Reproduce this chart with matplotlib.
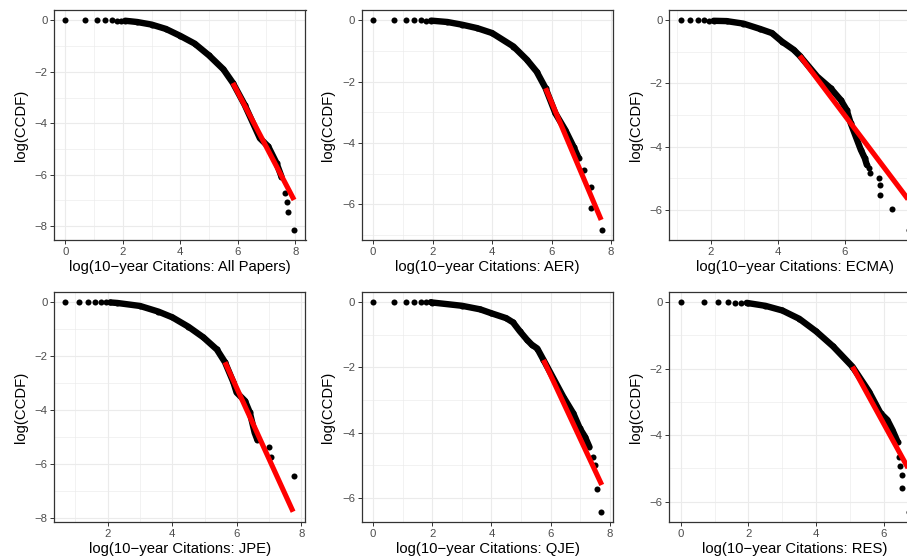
import matplotlib
matplotlib.use("Agg")
import matplotlib.pyplot as plt
from matplotlib.ticker import MultipleLocator

plt.rcParams['font.family'] = ['Liberation Sans', 'DejaVu Sans']

# ---- values (log citations, log CCDF) ----
labels = ['All Papers', 'AER', 'ECMA', 'JPE', 'QJE', 'RES']

# isolated dots (low-count head and sparse tail)
dots_x = {
    'All Papers': [0, 0.69, 1.10, 1.39, 1.61, 1.79, 1.95, 7.64, 7.72, 7.76, 7.96],
    'AER': [0, 0.69, 1.10, 1.39, 1.61, 1.79, 7.08, 7.33, 7.33, 7.69],
    'ECMA': [1.10, 1.39, 1.61, 1.79, 1.95, 6.72, 6.75, 7.02, 7.05, 7.05, 7.40, 7.92],
    'JPE': [0.69, 1.10, 1.39, 1.61, 1.79, 1.95, 7.00, 7.05, 7.77],
    'QJE': [0, 0.69, 1.10, 1.39, 1.61, 1.79, 7.44, 7.50, 7.56, 7.70],
    'RES': [0, 0.69, 1.10, 1.39, 1.61, 1.79, 6.44, 6.47, 6.54, 6.54, 6.75],
}
dots_y = {
    'All Papers': [0, 0, 0, 0, 0, -0.005, -0.008, -6.72, -7.05, -7.45, -8.15],
    'AER': [0, 0, 0, 0, 0, -0.005, -4.87, -5.42, -6.13, -6.84],
    'ECMA': [0, 0, 0, 0, -0.005, -4.69, -4.85, -5.01, -5.22, -5.54, -5.97, -6.65],
    'JPE': [0, 0, 0, 0, 0, -0.005, -5.36, -5.74, -6.44],
    'QJE': [0, 0, 0, 0, 0, -0.005, -4.74, -4.99, -5.71, -6.42],
    'RES': [0, 0, 0, 0, -0.01, -0.015, -4.65, -4.92, -5.20, -5.60, -6.30],
}

# dense part of the curve (points overlap into a band)
band_x = {
    'All Papers': [2.08, 2.5, 3.0, 3.5, 4.0, 4.5, 5.0, 5.5, 5.83, 6.24, 6.77, 7.06, 7.35, 7.52],
    'AER': [1.95, 2.5, 3.0, 3.5, 4.0, 4.72, 5.17, 5.5, 5.80, 6.13, 6.46, 6.74, 6.91],
    'ECMA': [2.08, 2.47, 2.97, 3.47, 3.82, 4.12, 4.47, 4.65, 5.17, 5.57, 5.87, 6.05, 6.17,
             6.32, 6.47, 6.59, 6.65],
    'JPE': [2.08, 2.3, 3.0, 3.57, 4.0, 4.5, 4.96, 5.38, 5.63, 5.89, 5.99, 6.25, 6.40, 6.55, 6.63],
    'QJE': [1.95, 2.0, 3.0, 3.62, 4.0, 4.5, 4.73, 4.95, 5.2, 5.36, 5.55, 5.76, 6.43, 6.77,
            6.99, 7.16, 7.31],
    'RES': [1.95, 2.0, 2.5, 3.0, 3.5, 4.0, 4.5, 5.07, 5.56, 5.90, 6.10, 6.25, 6.40],
}
band_y = {
    'All Papers': [-0.01, -0.06, -0.16, -0.33, -0.60, -0.90, -1.36, -1.90, -2.43, -3.28,
                   -4.58, -4.90, -5.55, -6.07],
    'AER': [-0.005, -0.05, -0.14, -0.25, -0.41, -0.85, -1.28, -1.67, -2.21, -3.03, -3.57,
            -4.12, -4.49],
    'ECMA': [-0.01, -0.02, -0.10, -0.27, -0.40, -0.67, -0.93, -1.12, -1.78, -2.15, -2.52,
             -2.84, -3.26, -3.68, -4.10, -4.37, -4.58],
    'JPE': [-0.01, -0.03, -0.14, -0.35, -0.56, -0.91, -1.30, -1.75, -2.22, -2.96, -3.34,
            -3.65, -4.08, -4.83, -5.08],
    'QJE': [0, -0.01, -0.11, -0.22, -0.34, -0.49, -0.62, -0.88, -1.15, -1.30, -1.42, -1.77,
            -2.90, -3.41, -3.87, -4.12, -4.43],
    'RES': [-0.02, -0.03, -0.11, -0.25, -0.50, -0.88, -1.33, -1.94, -2.69, -3.34, -3.54,
            -3.84, -4.19],
}

# fitted power-law tail (start and end of red line)
fit_x = {
    'All Papers': [5.83, 7.96], 'AER': [5.80, 7.67], 'ECMA': [4.65, 7.92],
    'JPE': [5.63, 7.74], 'QJE': [5.76, 7.73], 'RES': [5.07, 6.75],
}
fit_y = {
    'All Papers': [-2.43, -6.98], 'AER': [-2.21, -6.51], 'ECMA': [-1.12, -5.73],
    'JPE': [-2.22, -7.75], 'QJE': [-1.77, -5.60], 'RES': [-1.94, -5.06],
}

W, H = 907, 560
fig = plt.figure(figsize=(W / 100, H / 100), dpi=100)

# the right-hand column runs past the image edge, as in the original export
col_left = [54, 361.7, 669.3]
row_top = [10, 291.7]
pw, ph = 251.5, 230.5

for i, lab in enumerate(labels):
    r, c = divmod(i, 3)
    rect = [col_left[c] / W, 1 - (row_top[r] + ph) / H, pw / W, ph / H]
    ax = fig.add_axes(rect)

    ax.plot(band_x[lab], band_y[lab], color='black', lw=4.6, solid_capstyle='round',
            solid_joinstyle='round', zorder=2)
    ax.scatter(band_x[lab] + dots_x[lab], band_y[lab] + dots_y[lab], s=19,
               color='black', linewidths=0, zorder=3)
    ax.plot(fit_x[lab], fit_y[lab], color='red', lw=3.7, solid_capstyle='butt', zorder=4)

    ax.margins(0.05)
    ax.xaxis.set_major_locator(MultipleLocator(2))
    ax.xaxis.set_minor_locator(MultipleLocator(1))
    ax.yaxis.set_major_locator(MultipleLocator(2))
    ax.yaxis.set_minor_locator(MultipleLocator(1))

    ax.grid(which='major', color='#EBEBEB', lw=0.8, zorder=0)
    ax.grid(which='minor', color='#EBEBEB', lw=0.45, zorder=0)
    ax.set_axisbelow(True)
    for sp in ax.spines.values():
        sp.set_color('#333333')
        sp.set_linewidth(0.9)
    ax.tick_params(which='major', length=2.9, width=0.7, color='#333333',
                   labelsize=8.2, labelcolor='#4D4D4D', pad=1.8)
    ax.tick_params(which='minor', length=0)

    ax.set_xlabel(f'log(10\u2212year Citations: {lab})', fontsize=10.7, labelpad=2.3)
    ax.set_ylabel('log(CCDF)', fontsize=10.7, labelpad=5)

    # tick labels that fall past the right edge of the image are not shown
    fig.canvas.draw()
    for t, pos in zip(ax.get_xticklabels(), ax.get_xticks()):
        xpix = ax.transData.transform((pos, 0))[0]
        if xpix > W - 6:
            t.set_visible(False)

fig.savefig('out.png', dpi=100)
